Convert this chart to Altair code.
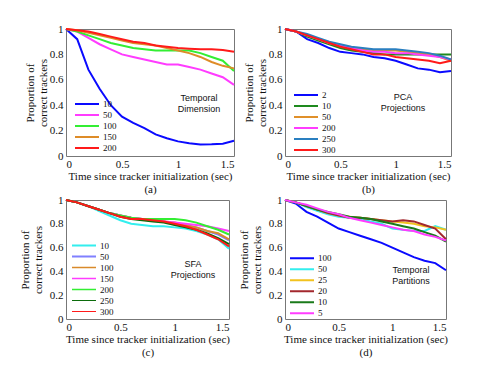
import altair as alt
import pandas as pd

t = [0.0, 0.1, 0.2, 0.3, 0.4, 0.5, 0.6, 0.7, 0.8, 0.9, 1.0, 1.1, 1.2, 1.3, 1.4, 1.5]

# (a) Temporal Dimension
a_names = ["10", "50", "100", "150", "200"]
a_colors = ["#0a0aff", "#ff3cff", "#33ee33", "#de8c28", "#ff1a1a"]
a_10 = [1.0, 0.92, 0.68, 0.53, 0.40, 0.31, 0.26, 0.22, 0.17, 0.14, 0.115, 0.10, 0.09, 0.092, 0.097, 0.12]
a_50 = [1.0, 0.98, 0.93, 0.88, 0.84, 0.80, 0.78, 0.76, 0.74, 0.72, 0.72, 0.70, 0.68, 0.65, 0.62, 0.56]
a_100 = [1.0, 0.98, 0.95, 0.92, 0.89, 0.87, 0.85, 0.84, 0.83, 0.83, 0.83, 0.83, 0.81, 0.78, 0.75, 0.67]
a_150 = [1.0, 0.99, 0.97, 0.95, 0.93, 0.91, 0.89, 0.88, 0.87, 0.85, 0.83, 0.81, 0.78, 0.74, 0.71, 0.69]
a_200 = [1.0, 0.99, 0.98, 0.96, 0.94, 0.92, 0.90, 0.89, 0.87, 0.86, 0.85, 0.845, 0.84, 0.84, 0.835, 0.82]

# (b) PCA Projections
b_names = ["2", "10", "50", "200", "250", "300"]
b_colors = ["#0a0aff", "#1e8a1e", "#e0902a", "#ff3cff", "#2a7fc0", "#ff1a1a"]
b_2 = [1.0, 0.98, 0.92, 0.89, 0.85, 0.82, 0.81, 0.80, 0.78, 0.77, 0.75, 0.72, 0.69, 0.68, 0.66, 0.67]
b_10 = [1.0, 0.98, 0.94, 0.91, 0.88, 0.85, 0.83, 0.82, 0.81, 0.80, 0.80, 0.80, 0.80, 0.80, 0.80, 0.80]
b_50 = [1.0, 0.98, 0.95, 0.92, 0.89, 0.87, 0.85, 0.84, 0.83, 0.83, 0.83, 0.82, 0.81, 0.80, 0.78, 0.75]
b_200 = [1.0, 0.98, 0.95, 0.92, 0.89, 0.87, 0.85, 0.83, 0.82, 0.82, 0.81, 0.81, 0.80, 0.79, 0.78, 0.76]
b_250 = [1.0, 0.98, 0.96, 0.93, 0.90, 0.88, 0.86, 0.85, 0.84, 0.84, 0.84, 0.83, 0.82, 0.81, 0.79, 0.76]
b_300 = [1.0, 0.98, 0.95, 0.92, 0.89, 0.86, 0.84, 0.82, 0.80, 0.80, 0.78, 0.77, 0.76, 0.75, 0.73, 0.75]

# (c) SFA Projections
c_names = ["10", "50", "100", "150", "200", "250", "300"]
c_colors = ["#33eeee", "#8080ff", "#d98a2b", "#ff3cff", "#33ee33", "#0b6b0b", "#ff1a1a"]
c_widths = [2, 1, 2, 2, 2, 2, 2]
c_10 = [1.0, 0.98, 0.95, 0.91, 0.87, 0.83, 0.80, 0.79, 0.78, 0.78, 0.77, 0.76, 0.74, 0.71, 0.67, 0.59]
c_50 = [1.0, 0.98, 0.95, 0.92, 0.89, 0.87, 0.85, 0.84, 0.83, 0.82, 0.80, 0.79, 0.77, 0.74, 0.71, 0.66]
c_100 = [1.0, 0.98, 0.95, 0.92, 0.89, 0.87, 0.85, 0.84, 0.83, 0.82, 0.81, 0.79, 0.77, 0.74, 0.72, 0.67]
c_150 = [1.0, 0.98, 0.95, 0.92, 0.89, 0.87, 0.85, 0.84, 0.83, 0.82, 0.81, 0.80, 0.79, 0.78, 0.76, 0.74]
c_200 = [1.0, 0.98, 0.95, 0.92, 0.89, 0.87, 0.85, 0.84, 0.84, 0.84, 0.84, 0.83, 0.81, 0.78, 0.75, 0.71]
c_250 = [1.0, 0.98, 0.95, 0.92, 0.89, 0.86, 0.84, 0.83, 0.82, 0.81, 0.79, 0.77, 0.75, 0.72, 0.68, 0.63]
c_300 = [1.0, 0.98, 0.95, 0.92, 0.89, 0.86, 0.84, 0.84, 0.83, 0.82, 0.80, 0.78, 0.75, 0.71, 0.67, 0.61]

# (d) Temporal Partitions
d_names = ["100", "50", "25", "20", "10", "5"]
d_colors = ["#0a0aff", "#33eeee", "#f2c21e", "#a3282e", "#1a7a1a", "#ff3cff"]
d_100 = [1.0, 0.97, 0.90, 0.86, 0.81, 0.76, 0.73, 0.70, 0.67, 0.64, 0.60, 0.56, 0.52, 0.49, 0.47, 0.41]
d_50 = [1.0, 0.98, 0.94, 0.91, 0.88, 0.86, 0.85, 0.84, 0.82, 0.80, 0.76, 0.75, 0.74, 0.74, 0.78, 0.75]
d_25 = [1.0, 0.98, 0.95, 0.92, 0.89, 0.87, 0.86, 0.85, 0.84, 0.83, 0.82, 0.81, 0.80, 0.78, 0.77, 0.75]
d_20 = [1.0, 0.98, 0.95, 0.92, 0.89, 0.87, 0.85, 0.85, 0.84, 0.83, 0.82, 0.83, 0.82, 0.79, 0.76, 0.67]
d_10 = [1.0, 0.98, 0.95, 0.92, 0.90, 0.88, 0.86, 0.85, 0.84, 0.82, 0.80, 0.78, 0.76, 0.73, 0.70, 0.65]
d_5 = [1.0, 0.98, 0.96, 0.93, 0.90, 0.88, 0.85, 0.83, 0.81, 0.79, 0.77, 0.75, 0.74, 0.71, 0.69, 0.66]

x_title = "Time since tracker initialization (sec)"
y_title = ["Proportion of", "correct trackers"]
SERIF = "Liberation Serif"
SANS = "Liberation Sans"


def panel(names, colors, series, widths, note, note_x, note_y, caption,
          w, h, leg_x, leg_y, ytitle_pad):
    rows = []
    for name, vals in zip(names, series):
        for tt, v in zip(t, vals):
            rows.append({"t": tt, "v": v, "s": name})
    df = pd.DataFrame(rows)
    legend = alt.Legend(
        title=None, orient="none", legendX=leg_x, legendY=leg_y,
        symbolType="stroke", symbolSize=576, symbolStrokeWidth=2,
        labelFont=SERIF, labelFontSize=9, labelColor="#111",
        clipHeight=11, rowPadding=0, labelOffset=3, padding=0,
    )
    lines = alt.Chart(df).mark_line(strokeWidth=2).encode(
        x=alt.X("t:Q", scale=alt.Scale(domain=[0, 1.5], nice=False),
                axis=alt.Axis(values=[0, 0.5, 1, 1.5], format=".1~f",
                              title=[x_title, caption], titleLineHeight=13,
                              titlePadding=1, labelPadding=2)),
        y=alt.Y("v:Q", scale=alt.Scale(domain=[0, 1], nice=False),
                axis=alt.Axis(values=[0, 0.2, 0.4, 0.6, 0.8, 1], format=".1~f",
                              title=y_title, titleLineHeight=13,
                              titlePadding=ytitle_pad, labelPadding=3)),
        color=alt.Color("s:N", scale=alt.Scale(domain=names, range=colors),
                        sort=names, legend=legend),
        strokeWidth=alt.StrokeWidth("s:N", scale=alt.Scale(domain=names, range=widths),
                                    sort=names, legend=legend),
        detail="s:N",
    )
    text = alt.Chart(pd.DataFrame({"k": [0]})).mark_text(
        text=note, font=SANS, fontSize=9, lineHeight=11, color="#111",
        align="center", baseline="middle",
    ).encode(x=alt.value(note_x), y=alt.value(note_y))
    return alt.layer(lines, text).properties(width=w, height=h).resolve_scale(
        color="independent", strokeWidth="independent")


pa = panel(a_names, a_colors, [a_10, a_50, a_100, a_150, a_200], [2] * 5,
           ["Temporal", "Dimension"], 133, 69, "(a)", 168, 127, 8, 69.5, 1)
pb = panel(b_names, b_colors, [b_2, b_10, b_50, b_200, b_250, b_300], [2] * 6,
           ["PCA", "Projections"], 118, 68, "(b)", 166, 127, 8, 60.5, 1)
pc = panel(c_names, c_colors, [c_10, c_50, c_100, c_150, c_200, c_250, c_300], c_widths,
           ["SFA", "Projections"], 127, 64, "(c)", 163, 119, 5, 40, 6)
pd_ = panel(d_names, d_colors, [d_100, d_50, d_25, d_20, d_10, d_5], [2] * 6,
            ["Temporal", "Partitions"], 126, 70.3, "(d)", 161, 119, 4, 52.8, 6)

top = alt.hconcat(pa, pb, spacing=3).resolve_scale(color="independent", strokeWidth="independent")
bottom = alt.hconcat(pc, pd_, spacing=3).resolve_scale(color="independent", strokeWidth="independent")

chart = alt.vconcat(top, bottom, spacing=-2).resolve_scale(
    color="independent", strokeWidth="independent"
).properties(
    padding={"left": 10, "top": 14, "right": 5, "bottom": 5}
).configure_view(
    stroke="#777", strokeWidth=1
).configure_axis(
    grid=False, ticks=False, domain=False,
    labelFont=SERIF, labelFontSize=11, labelColor="#111",
    titleFont=SERIF, titleFontSize=11, titleFontWeight="normal", titleColor="#111",
)

chart.save("out.html", embed_options={"renderer": "svg", "actions": False})
